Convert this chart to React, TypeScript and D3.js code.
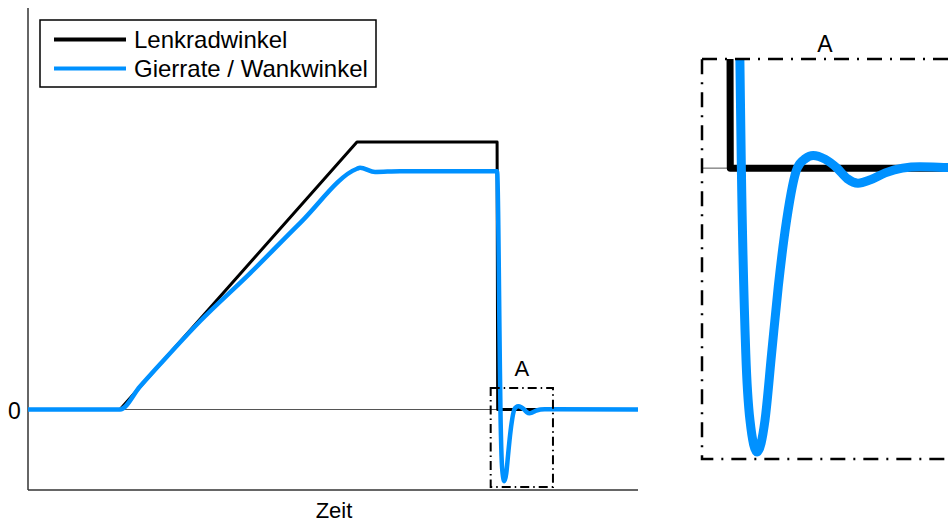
import React, { useEffect, useRef } from 'react';
import * as d3 from 'd3';

// Lenkradwinkel (steering wheel angle), time in arbitrary units, value in % of max
const steerTime = [0, 1.508, 5.393, 7.69, 7.7, 10];
const steerValue = [0, 0, 100, 100, 0, 0];

// Gierrate / Wankwinkel
const yawTime = [0, 1.508, 1.836, 2.164, 2.82, 3.639, 4.459, 5.393, 5.443, 5.689, 6.098, 7.69,
    7.739, 7.745, 7.763, 7.78, 7.809, 7.841, 7.868, 7.895, 7.929, 7.972, 8.005, 8.037, 8.085, 8.134,
    8.176, 8.219, 8.27, 8.33, 8.40, 8.47, 8.62, 10];
const yawValue = [0, 0, 8.6, 16.9, 33, 50.9, 69.7, 90.0, 90.4, 88.8, 89.1, 89.1,
    10.25, 0, -17.5, -23.8, -26.8, -23.8, -17.5, -11.2, -4.9, 0, 0.9, 1.2, 0.85, 0,
    -1.0, -1.42, -1.1, -0.45, 0, 0.12, 0.05, 0];

const seriesNames = ['Lenkradwinkel', 'Gierrate / Wankwinkel'];
const seriesColors = ['#000000', '#0091ff'];

// detail region "A"
const detailTime = [7.585, 8.606];
const detailValueMain = [-29, 8];
const detailValueZoom = [-27.45, 10.3];

const font = 'Liberation Sans, Arial, Helvetica, sans-serif';

const App = () => {
    const svgRef = useRef(null);

    useEffect(() => {
        const width = 948;
        const height = 522;
        const svg = d3.select(svgRef.current);
        svg.selectAll('*').remove();
        svg.attr('width', width).attr('height', height);

        const steer = steerTime.map((t, i) => ({ t, v: steerValue[i] }));
        const yaw = yawTime.map((t, i) => ({ t, v: yawValue[i] }));

        // main plot
        const x = d3.scaleLinear().domain([0, 10]).range([28, 638]);
        const y = d3.scaleLinear().domain([0, 100]).range([409.5, 142]);
        const yMin = y.invert(490);
        const yMax = y.invert(8);

        const main = svg.append('g');
        main.append('line')
            .attr('x1', x(0)).attr('x2', x(10))
            .attr('y1', y(0)).attr('y2', y(0))
            .attr('stroke', '#555').attr('stroke-width', 1);
        main.append('line')
            .attr('x1', x(0)).attr('x2', x(10))
            .attr('y1', y(yMin)).attr('y2', y(yMin))
            .attr('stroke', '#333').attr('stroke-width', 1.5);
        main.append('line')
            .attr('x1', x(0)).attr('x2', x(0))
            .attr('y1', y(yMin)).attr('y2', y(yMax))
            .attr('stroke', '#333').attr('stroke-width', 1.5);

        const lineSteer = d3.line().x(d => x(d.t)).y(d => y(d.v));
        const lineYaw = d3.line().x(d => x(d.t)).y(d => y(d.v)).curve(d3.curveMonotoneX);

        main.append('path').attr('d', lineSteer(steer))
            .attr('fill', 'none').attr('stroke', seriesColors[0])
            .attr('stroke-width', 3).attr('stroke-linejoin', 'round');
        main.append('path').attr('d', lineYaw(yaw))
            .attr('fill', 'none').attr('stroke', seriesColors[1])
            .attr('stroke-width', 4.5).attr('stroke-linejoin', 'round');

        // detail box in main plot
        main.append('rect')
            .attr('x', x(detailTime[0])).attr('y', y(detailValueMain[1]))
            .attr('width', x(detailTime[1]) - x(detailTime[0]))
            .attr('height', y(detailValueMain[0]) - y(detailValueMain[1]))
            .attr('fill', 'none').attr('stroke', '#000').attr('stroke-width', 2)
            .attr('stroke-dasharray', '9,4,1.5,4');
        main.append('text')
            .attr('x', (x(detailTime[0]) + x(detailTime[1])) / 2).attr('y', 376)
            .attr('text-anchor', 'middle').attr('font-family', font).attr('font-size', 22)
            .text('A');

        main.append('text')
            .attr('x', 14.5).attr('y', y(0) + 9.5)
            .attr('text-anchor', 'middle').attr('font-family', font).attr('font-size', 23)
            .text('0');
        main.append('text')
            .attr('x', 334).attr('y', 518)
            .attr('text-anchor', 'middle').attr('font-family', font).attr('font-size', 22)
            .text('Zeit');

        // legend
        const legend = svg.append('g');
        legend.append('rect')
            .attr('x', 40).attr('y', 20).attr('width', 336).attr('height', 67)
            .attr('fill', '#fff').attr('stroke', '#000').attr('stroke-width', 1.5);
        seriesNames.forEach((name, i) => {
            const ly = 39.5 + i * 29;
            legend.append('line')
                .attr('x1', 54).attr('x2', 126).attr('y1', ly).attr('y2', ly)
                .attr('stroke', seriesColors[i]).attr('stroke-width', 4);
            legend.append('text')
                .attr('x', 134).attr('y', ly + 8)
                .attr('font-family', font).attr('font-size', 24)
                .text(name);
        });

        // zoomed detail "A"
        const zx = d3.scaleLinear().domain(detailTime).range([702, 702 + (detailTime[1] - detailTime[0]) * 246]);
        const zy = d3.scaleLinear().domain(detailValueZoom).range([459, 59]);

        svg.append('clipPath').attr('id', 'zoom-clip')
            .append('rect')
            .attr('x', zx(detailTime[0])).attr('y', zy(detailValueZoom[1]))
            .attr('width', zx(detailTime[1]) - zx(detailTime[0]))
            .attr('height', zy(detailValueZoom[0]) - zy(detailValueZoom[1]));

        const zoom = svg.append('g');
        const inner = zoom.append('g').attr('clip-path', 'url(#zoom-clip)');
        inner.append('line')
            .attr('x1', zx(detailTime[0])).attr('x2', zx(detailTime[1]))
            .attr('y1', zy(0)).attr('y2', zy(0))
            .attr('stroke', '#555').attr('stroke-width', 1);

        const zSteer = d3.line().x(d => zx(d.t)).y(d => zy(d.v));
        const zYaw = d3.line().x(d => zx(d.t)).y(d => zy(d.v)).curve(d3.curveMonotoneX);
        inner.append('path').attr('d', zSteer(steer))
            .attr('fill', 'none').attr('stroke', seriesColors[0])
            .attr('stroke-width', 7).attr('stroke-linejoin', 'round');
        inner.append('path').attr('d', zYaw(yaw))
            .attr('fill', 'none').attr('stroke', seriesColors[1])
            .attr('stroke-width', 9).attr('stroke-linejoin', 'round').attr('stroke-linecap', 'round');

        zoom.append('rect')
            .attr('x', zx(detailTime[0])).attr('y', zy(detailValueZoom[1]))
            .attr('width', zx(detailTime[1]) - zx(detailTime[0]))
            .attr('height', zy(detailValueZoom[0]) - zy(detailValueZoom[1]))
            .attr('fill', 'none').attr('stroke', '#000').attr('stroke-width', 2.5)
            .attr('stroke-dasharray', '15,8,2,8');
        zoom.append('text')
            .attr('x', 825).attr('y', 52)
            .attr('text-anchor', 'middle').attr('font-family', font).attr('font-size', 23)
            .text('A');
    }, []);

    return (
        <div style={{ position: 'absolute', left: 0, top: 0 }}>
            <svg ref={svgRef} style={{ display: 'block' }}></svg>
        </div>
    );
};

export default App;
